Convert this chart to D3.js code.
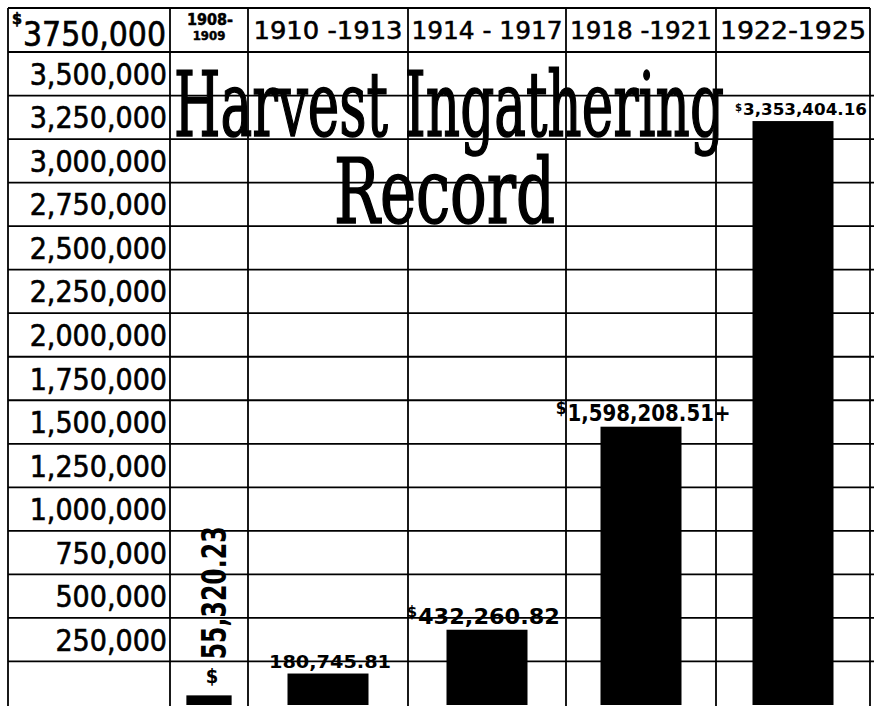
<!DOCTYPE html>
<html>
<head>
<meta charset="utf-8">
<script src="https://cdn.jsdelivr.net/npm/d3@7"></script>
<style>
  html, body { margin: 0; padding: 0; background: #fff; }
  svg { display: block; }
</style>
</head>
<body>
<svg width="884" height="706"></svg>
<script>
(function() {
  'use strict';

  // Data.
  const periods = ['1908-1909', '1910-1913', '1914-1917', '1918-1921', '1922-1925'];
  const periodLabels = [['1908-', '1909'], ['1910 -1913'], ['1914 - 1917'], ['1918 -1921'], ['1922-1925']];
  const amounts = [55320.23, 180745.81, 432260.82, 1598208.51, 3353404.16];
  const amountSuffix = ['', '', '', '+', ''];
  const amountDollar = [true, false, true, true, true];
  const tickValues = [3750000, 3500000, 3250000, 3000000, 2750000, 2500000, 2250000,
    2000000, 1750000, 1500000, 1250000, 1000000, 750000, 500000, 250000];
  const tickLabels = ['3750,000', '3,500,000', '3,250,000', '3,000,000', '2,750,000',
    '2,500,000', '2,250,000', '2,000,000', '1,750,000', '1,500,000', '1,250,000',
    '1,000,000', '750,000', '500,000', '250,000'];
  const titleLines = ['Harvest Ingathering', 'Record'];

  // Layout.
  const left = 8;
  const top = 8;
  const labelColRight = 170;
  const right = 870;
  const headerBottom = 52;
  const bottom = 705;
  const colWidths = [78, 160, 158, 150, 154];
  const labelSizes = [34, 17, 22, 23, 15];
  const labelLengths = [133, 122, 142, 163, 124];
  const labelShift = [0, 2, 2, 8, 12];
  const headerLengths = [0, 149, 151, 142, 146];
  const sans = '"DejaVu Sans Condensed", "DejaVu Sans", sans-serif';
  const serif = '"DejaVu Serif Condensed", "DejaVu Serif", serif';

  const svg = d3.select('svg');

  const edges = colWidths.reduce((acc, w) => {
    acc.push(acc[acc.length - 1] + w);
    return acc;
  }, [labelColRight]);

  const xLeft = d3.scaleOrdinal()
      .domain(periods)
      .range(edges.slice(0, -1));
  const xWidth = d3.scaleOrdinal()
      .domain(periods)
      .range(colWidths);
  const xMid = (p) => xLeft(p) + xWidth(p) / 2;

  const y = d3.scaleLinear()
      .domain([0, 3750000])
      .range([bottom, headerBottom]);

  const rowH = y(0) - y(250000);

  // Grid.
  const grid = svg.append('g')
      .attr('stroke', '#000')
      .attr('stroke-width', 1.8)
      .attr('fill', 'none');

  grid.selectAll('line.h')
      .data(tickValues)
      .join('line')
      .attr('class', 'h')
      .attr('x1', left)
      .attr('x2', (d, i) => i === 0 ? right : right + 4)
      .attr('y1', (d) => y(d))
      .attr('y2', (d) => y(d));

  grid.append('line')
      .attr('x1', left)
      .attr('x2', right)
      .attr('y1', top)
      .attr('y2', top);

  grid.selectAll('line.v')
      .data([left].concat(edges))
      .join('line')
      .attr('class', 'v')
      .attr('x1', (d) => d)
      .attr('x2', (d) => d)
      .attr('y1', top)
      .attr('y2', bottom + 1);

  // Bars.
  svg.append('g')
      .selectAll('rect')
      .data(periods)
      .join('rect')
      .attr('x', (d) => xMid(d) - Math.min(xWidth(d) * 0.58, 81) / 2)
      .attr('width', (d) => Math.min(xWidth(d) * 0.58, 81))
      .attr('y', (d, i) => y(amounts[i]))
      .attr('height', (d, i) => y(0) - y(amounts[i]))
      .attr('fill', '#000');

  // Row labels.
  const rows = svg.append('g')
      .attr('font-family', sans)
      .attr('fill', '#000')
      .attr('stroke', '#000')
      .attr('stroke-width', 0.6);

  rows.selectAll('text')
      .data(tickValues.slice(1))
      .join('text')
      .attr('x', labelColRight - 3)
      .attr('y', (d) => y(d) - rowH / 2 + 11)
      .attr('text-anchor', 'end')
      .attr('font-size', 30)
      .text((d, i) => tickLabels[i + 1]);

  rows.append('text')
      .attr('x', labelColRight - 4)
      .attr('y', y(tickValues[0]) - 6)
      .attr('text-anchor', 'end')
      .attr('font-size', 33)
      .attr('textLength', 143)
      .attr('lengthAdjust', 'spacingAndGlyphs')
      .text(tickLabels[0]);

  rows.append('text')
      .attr('x', 12)
      .attr('y', 24)
      .attr('font-size', 16)
      .attr('font-weight', 'bold')
      .text('$');

  // Column headers.
  const head = svg.append('g')
      .attr('font-family', sans)
      .attr('fill', '#000')
      .attr('stroke', '#000')
      .attr('stroke-width', 0.5)
      .attr('text-anchor', 'middle');

  periods.forEach((p, i) => {
    const lines = periodLabels[i];
    if (lines.length > 1) {
      head.append('text')
          .attr('x', xMid(p) + 1)
          .attr('y', 25)
          .attr('font-size', 16)
          .attr('font-weight', 'bold')
          .text(lines[0]);
      head.append('text')
          .attr('x', xMid(p))
          .attr('y', 40)
          .attr('font-size', 13)
          .attr('font-weight', 'bold')
          .text(lines[1]);
    } else {
      head.append('text')
          .attr('x', xMid(p))
          .attr('y', 39)
          .attr('font-size', 25)
          .attr('textLength', headerLengths[i])
          .attr('lengthAdjust', 'spacingAndGlyphs')
          .text(lines[0]);
    }
  });

  // Amount labels.
  const fmt = d3.format(',.2f');
  const notes = svg.append('g')
      .attr('font-family', sans)
      .attr('font-weight', 'bold')
      .attr('fill', '#000');

  periods.forEach((p, i) => {
    const yTop = y(amounts[i]);
    const label = fmt(amounts[i]) + amountSuffix[i];
    if (i === 0) {
      // The narrow first column has its figure written upwards.
      notes.append('text')
          .attr('transform', 'translate(' + (xMid(p) + 17) + ',' + (yTop - 36) + ') rotate(-90)')
          .attr('font-size', labelSizes[i])
          .attr('textLength', labelLengths[i])
          .attr('lengthAdjust', 'spacingAndGlyphs')
          .text(label);
      notes.append('text')
          .attr('x', xMid(p) + 3)
          .attr('y', yTop - 12)
          .attr('text-anchor', 'middle')
          .attr('font-size', 20)
          .text('$');
      return;
    }
    const cx = xMid(p) + labelShift[i];
    const base = yTop - 6;
    notes.append('text')
        .attr('x', cx)
        .attr('y', base)
        .attr('text-anchor', 'middle')
        .attr('font-size', labelSizes[i])
        .attr('textLength', labelLengths[i])
        .attr('lengthAdjust', 'spacingAndGlyphs')
        .text(label);
    if (amountDollar[i]) {
      notes.append('text')
          .attr('x', cx - labelLengths[i] / 2 - 1)
          .attr('y', base - labelSizes[i] * 0.3)
          .attr('text-anchor', 'end')
          .attr('font-size', labelSizes[i] * 0.75)
          .text('$');
    }
  });

  // Title.
  const title = svg.append('g')
      .attr('font-family', serif)
      .attr('font-size', 89)
      .attr('fill', '#000')
      .attr('stroke', '#000')
      .attr('stroke-width', 1.6);

  title.append('text')
      .attr('x', 174)
      .attr('y', 136)
      .attr('textLength', 550)
      .attr('lengthAdjust', 'spacingAndGlyphs')
      .text(titleLines[0]);

  title.append('text')
      .attr('x', 334)
      .attr('y', 223)
      .attr('textLength', 221)
      .attr('lengthAdjust', 'spacingAndGlyphs')
      .text(titleLines[1]);
})();
</script>
</body>
</html>
